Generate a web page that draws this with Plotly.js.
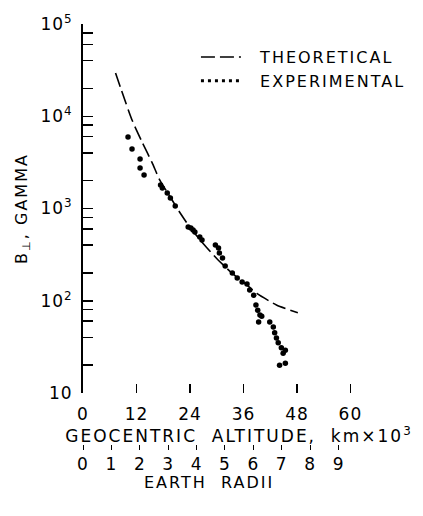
<!DOCTYPE html>
<html><head><meta charset="utf-8">
<script src="https://cdn.plot.ly/plotly-3.0.1.min.js"></script>
<style>
html,body{margin:0;padding:0;background:#fff;}
#chart{width:423px;height:516px;}
text{letter-spacing:1px;}
text.legendtext,text.xtitle,text.ytitle,text.annotation-text{letter-spacing:2px;}
</style>
</head><body><div id="chart"></div>
<script>
// Theoretical curve (geocentric altitude, km x 10^3 ; B-perp, gamma)
const theoryAlt = [7.3, 11.0, 13.3, 15.5, 17.3, 19.5, 21.8, 23.9, 26.9, 30.2, 33.1, 37.2, 39.0, 43.4, 48.2];
const theoryB   = [29400, 9100, 5200, 3140, 2000, 1350, 894, 635, 420, 280, 206, 142, 120, 90, 74];

// Experimental points
const expAlt = [10.1, 11.0, 12.8, 12.8, 13.7, 17.4, 17.8, 18.9, 19.6, 20.7,
                23.6, 24.2, 24.7, 25.1, 26.2, 26.7, 29.7, 30.4, 30.6, 31.3,
                31.9, 33.5, 34.6, 35.7, 36.8, 37.4, 38.3, 38.8, 39.2, 39.7,
                40.1, 39.4, 41.9, 42.7, 43.0, 43.4, 43.8, 44.5, 45.4, 44.9,
                44.1, 45.4];
const expB   = [5960, 4420, 3440, 2750, 2310, 1800, 1670, 1470, 1300, 1065,
                630, 615, 585, 556, 491, 456, 402, 373, 329, 291,
                238, 200, 177, 160, 152, 131, 115, 90, 79, 70,
                68, 59, 59, 52, 45, 39.5, 35, 31, 29, 27,
                20, 21];

// Axis ticks
const altTicks = [0, 12, 24, 36, 48, 60];
const radiiTicks = [0, 1, 2, 3, 4, 5, 6, 7, 8, 9];
const yTickVals = [10, 100, 1000, 10000, 100000];
const yTickText = ['10', '10<sup>2</sup>', '10<sup>3</sup>', '10<sup>4</sup>', '10<sup>5</sup>'];
const yMinorVals = [20, 40, 60, 80, 200, 400, 600, 800, 2000, 4000, 6000, 8000, 20000, 40000, 60000, 80000];

const FONT = 'DejaVu Sans, sans-serif';
const KM_PER_RE = 6.371;

const traces = [
  {x: theoryAlt, y: theoryB, mode: 'lines', name: '\u00a0\u00a0THEORETICAL',
   line: {color: '#000', width: 1.6, dash: '14px,5px', shape: 'spline', smoothing: 0.6},
   hoverinfo: 'skip'},
  {x: expAlt, y: expB, mode: 'markers', name: 'EXPERIMENTAL', showlegend: false,
   marker: {color: '#000', size: 5.5}, hoverinfo: 'skip'},
  {x: [null], y: [null], mode: 'lines', name: '\u00a0\u00a0EXPERIMENTAL', showlegend: true,
   line: {color: '#000', width: 3, dash: '3px,4px'}},
  {x: radiiTicks, y: radiiTicks.map(() => null), xaxis: 'x2', mode: 'markers',
   showlegend: false, hoverinfo: 'skip', marker: {opacity: 0}}
];

const xMax = 70;
const layout = {
  width: 423, height: 516,
  margin: {l: 83, r: 22, t: 24, b: 20},
  paper_bgcolor: '#fff', plot_bgcolor: '#fff',
  font: {family: FONT, color: '#000', size: 16},
  showlegend: true,
  legend: {x: 0.362, y: 0.966, xanchor: 'left', yanchor: 'top', bgcolor: 'rgba(0,0,0,0)',
           font: {family: FONT, size: 16, color: '#000'}, itemwidth: 40, tracegroupgap: 0},
  xaxis: {
    range: [0, xMax], showgrid: false, zeroline: false, showline: false,
    tickvals: altTicks, ticktext: altTicks.map(String),
    ticks: 'inside', ticklen: 9, tickwidth: 1.5, tickcolor: '#000',
    ticklabelstandoff: 9,
    tickfont: {family: FONT, size: 17},
    title: {text: 'GEOCENTRIC\u00a0\u00a0ALTITUDE,\u00a0\u00a0km\u00d710<sup>3</sup>', font: {family: FONT, size: 17}, standoff: 0}
  },
  xaxis2: {
    overlaying: 'x', anchor: 'free', position: 0.110, side: 'bottom',
    range: [0, xMax / KM_PER_RE], showgrid: false, zeroline: false, showline: false,
    tickvals: radiiTicks, ticktext: radiiTicks.map(String),
    ticks: 'outside', ticklen: 5, tickwidth: 1, tickcolor: '#000',
    tickfont: {family: FONT, size: 17}
  },
  yaxis: {
    type: 'log', range: [1, 5], domain: [0.2182, 1],
    showgrid: false, zeroline: false, showline: true, linecolor: '#000', linewidth: 2,
    tickvals: yTickVals, ticktext: yTickText,
    ticks: 'inside', ticklen: 10, tickwidth: 1.5, tickcolor: '#000',
    minor: {tickvals: yMinorVals, ticks: 'inside', ticklen: 10, tickwidth: 1.5, tickcolor: '#000', showgrid: false},
    ticklabelstandoff: 5,
    tickfont: {family: FONT, size: 17},
    title: {text: 'B<sub>\u22a5</sub>, GAMMA', font: {family: FONT, size: 16}, standoff: 9}
  },
  annotations: [
    {text: 'EARTH\u00a0\u00a0RADII', xref: 'paper', yref: 'paper', x: (211 - 83) / 318, y: 0.028,
     xanchor: 'center', yanchor: 'middle', showarrow: false, font: {family: FONT, size: 16}}
  ]
};

Plotly.newPlot('chart', traces, layout, {staticPlot: true, displayModeBar: false});
</script>
</body></html>
